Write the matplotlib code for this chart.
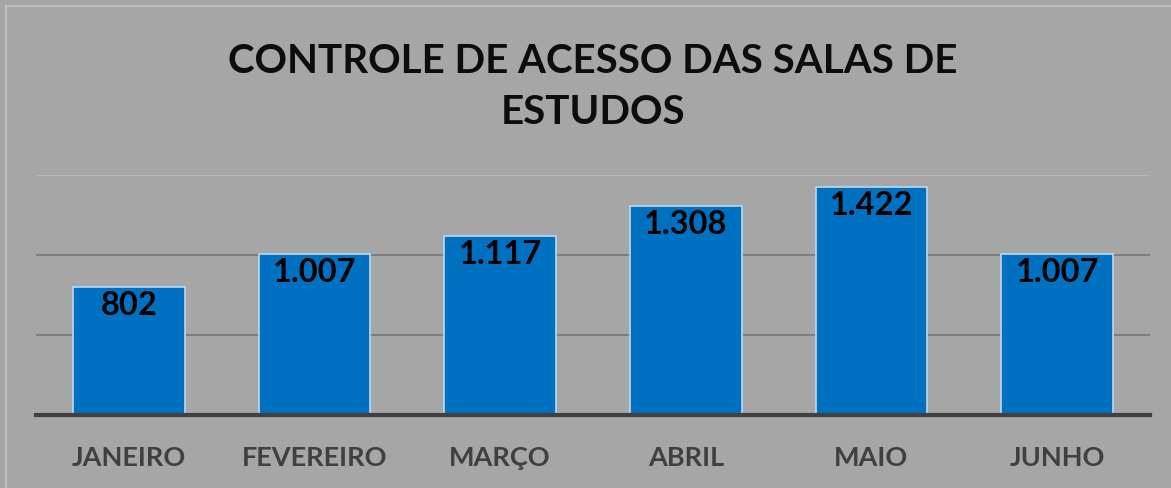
import matplotlib.pyplot as plt
import matplotlib.patches as mpatches

meses = ['JANEIRO', 'FEVEREIRO', 'MARÇO', 'ABRIL', 'MAIO', 'JUNHO']
acessos = [802, 1007, 1117, 1308, 1422, 1007]
rotulos = ['802', '1.007', '1.117', '1.308', '1.422', '1.007']
titulo = 'CONTROLE DE ACESSO DAS SALAS DE\nESTUDOS'

fundo = '#A6A6A6'
fig = plt.figure(figsize=(11.71, 4.88), dpi=100, facecolor=fundo)
ax = fig.add_axes([36 / 1171, 1 - 415 / 488, (1150 - 36) / 1171, (415 - 175) / 488])
ax.set_facecolor(fundo)

# borda clara do gráfico
fig.patches.append(mpatches.Rectangle((6 / 1171, -0.1), 1.2, 1 - 6 / 488 + 0.1, transform=fig.transFigure,
                                      fill=False, edgecolor='#BFBFBF', linewidth=1.5))

x = range(len(meses))
ax.bar(x, acessos, width=0.6, color='#0070C0', edgecolor='#BDD7EE', linewidth=1.2, zorder=3)

for xi, v, r in zip(x, acessos, rotulos):
    ax.text(xi, v - 25, r, ha='center', va='top', fontsize=23.5, fontweight='bold',
            family='Lato', color='black', zorder=4)

ax.set_xlim(-0.5, len(meses) - 0.5)
ax.set_ylim(0, 1500)
ax.set_yticks([500, 1000])
ax.grid(axis='y', color='#7F7F7F', linewidth=1.5, zorder=0)
ax.axhline(1500, color='#B5B5B5', linewidth=1.5, zorder=0)
ax.tick_params(left=False, bottom=False, labelleft=False)
ax.set_xticks(list(x))
ax.set_xticklabels(meses, fontsize=19.5, fontweight='bold', family='Lato', color='#404040')
ax.tick_params(axis='x', pad=19)
for s in ['top', 'right', 'left']:
    ax.spines[s].set_visible(False)
ax.spines['bottom'].set_color('#404040')
ax.spines['bottom'].set_linewidth(3)
ax.spines['bottom'].set_zorder(5)

fig.text(593 / 1171, 1 - 87 / 488, titulo, ha='center', va='center', fontsize=29, fontweight='bold',
         family='Lato', color='#0D0D0D', linespacing=1.45)

fig.savefig('out.png', dpi=100, facecolor=fundo)
